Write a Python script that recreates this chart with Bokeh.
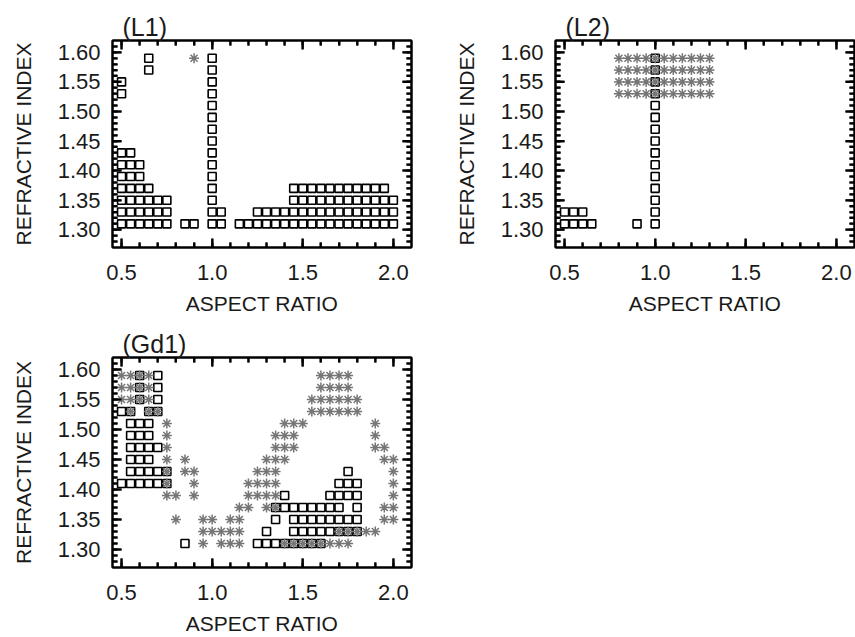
from bokeh.plotting import figure
from bokeh.layouts import column, row
from bokeh.models import Range1d, LinearAxis, FixedTicker, CustomJSTickFormatter
from bokeh.embed import file_html
from bokeh.resources import INLINE

# ---------------- data (aspect ratio values per refractive-index row) ----------------
L1_SQUARES = [
    (1.59, [0.65, 1.00]),
    (1.57, [0.65, 1.00]),
    (1.55, [0.50, 1.00]),
    (1.53, [0.50, 1.00]),
    (1.51, [1.00]),
    (1.49, [1.00]),
    (1.47, [1.00]),
    (1.45, [1.00]),
    (1.43, [0.50, 0.55, 1.00]),
    (1.41, [0.50, 0.55, 0.60, 1.00]),
    (1.39, [0.50, 0.55, 0.60, 1.00]),
    (1.37, [0.50, 0.55, 0.60, 0.65, 1.00, 1.45, 1.50, 1.55, 1.60, 1.65, 1.70, 1.75, 1.80, 1.85, 1.90, 1.95]),
    (1.35, [0.50, 0.55, 0.60, 0.65, 0.70, 0.75, 1.00, 1.45, 1.50, 1.55, 1.60, 1.65, 1.70, 1.75, 1.80, 1.85, 1.90, 1.95, 2.00]),
    (1.33, [0.50, 0.55, 0.60, 0.65, 0.70, 0.75, 1.00, 1.05, 1.25, 1.30, 1.35, 1.40, 1.45, 1.50, 1.55, 1.60, 1.65, 1.70, 1.75, 1.80, 1.85, 1.90, 1.95, 2.00]),
    (1.31, [0.50, 0.55, 0.60, 0.65, 0.70, 0.75, 0.85, 0.90, 1.00, 1.05, 1.15, 1.20, 1.25, 1.30, 1.35, 1.40, 1.45, 1.50, 1.55, 1.60, 1.65, 1.70, 1.75, 1.80, 1.85, 1.90, 1.95, 2.00]),
]
L1_STARS = [
    (1.59, [0.90]),
]

L2_SQUARES = [
    (1.59, [1.00]), (1.57, [1.00]), (1.55, [1.00]), (1.53, [1.00]),
    (1.51, [1.00]), (1.49, [1.00]), (1.47, [1.00]), (1.45, [1.00]),
    (1.43, [1.00]), (1.41, [1.00]), (1.39, [1.00]), (1.37, [1.00]),
    (1.35, [1.00]),
    (1.33, [0.50, 0.55, 0.60, 1.00]),
    (1.31, [0.50, 0.55, 0.60, 0.65, 0.90, 1.00]),
]
L2_STARS = [
    (1.59, [0.80, 0.85, 0.90, 0.95, 1.00, 1.05, 1.10, 1.15, 1.20, 1.25, 1.30]),
    (1.57, [0.80, 0.85, 0.90, 0.95, 1.00, 1.05, 1.10, 1.15, 1.20, 1.25, 1.30]),
    (1.55, [0.80, 0.85, 0.90, 0.95, 1.00, 1.05, 1.10, 1.15, 1.20, 1.25, 1.30]),
    (1.53, [0.80, 0.85, 0.90, 0.95, 1.00, 1.05, 1.10, 1.15, 1.20, 1.25, 1.30]),
]

GD1_SQUARES = [
    (1.59, [0.60, 0.70]),
    (1.57, [0.60, 0.70]),
    (1.55, [0.60, 0.70]),
    (1.53, [0.50, 0.55, 0.65, 0.70]),
    (1.51, [0.55, 0.60, 0.65]),
    (1.49, [0.55, 0.60, 0.65]),
    (1.47, [0.55, 0.60, 0.65, 0.70]),
    (1.45, [0.55, 0.60, 0.65]),
    (1.43, [0.55, 0.60, 0.65, 0.70, 0.75, 1.75]),
    (1.41, [0.50, 0.55, 0.60, 0.65, 0.70, 0.75, 1.70, 1.75, 1.80]),
    (1.39, [1.40, 1.65, 1.70, 1.75, 1.80]),
    (1.37, [1.35, 1.40, 1.45, 1.50, 1.55, 1.60, 1.65, 1.70, 1.80]),
    (1.35, [1.35, 1.45, 1.50, 1.55, 1.60, 1.65, 1.70, 1.75, 1.80]),
    (1.33, [1.30, 1.45, 1.50, 1.55, 1.60, 1.65, 1.70, 1.75, 1.80]),
    (1.31, [0.85, 1.25, 1.30, 1.35, 1.40, 1.45, 1.50, 1.55, 1.60]),
]
GD1_STARS = [
    (1.59, [0.50, 0.55, 0.60, 0.65, 1.60, 1.65, 1.70, 1.75]),
    (1.57, [0.50, 0.55, 0.60, 0.65, 1.60, 1.65, 1.70, 1.75]),
    (1.55, [0.50, 0.55, 0.60, 0.65, 1.55, 1.60, 1.65, 1.70, 1.75, 1.80]),
    (1.53, [0.55, 0.65, 0.70, 1.55, 1.60, 1.65, 1.70, 1.75, 1.80]),
    (1.51, [0.75, 1.40, 1.45, 1.50, 1.90]),
    (1.49, [0.75, 1.35, 1.40, 1.45, 1.90]),
    (1.47, [0.75, 1.35, 1.40, 1.45, 1.90, 1.95]),
    (1.45, [0.75, 0.85, 1.30, 1.35, 1.40, 1.95, 2.00]),
    (1.43, [0.75, 0.85, 0.90, 1.25, 1.30, 1.35, 2.00]),
    (1.41, [0.75, 0.90, 1.20, 1.25, 1.30, 1.35, 2.00]),
    (1.39, [0.75, 0.80, 0.90, 1.20, 1.25, 1.30, 1.35, 2.00]),
    (1.37, [1.15, 1.20, 1.30, 1.35, 1.95, 2.00]),
    (1.35, [0.80, 0.95, 1.00, 1.10, 1.15, 1.95, 2.00]),
    (1.33, [0.95, 1.00, 1.05, 1.10, 1.15, 1.70, 1.75, 1.80, 1.85, 1.90]),
    (1.31, [0.95, 1.05, 1.10, 1.15, 1.40, 1.45, 1.50, 1.55, 1.60, 1.65, 1.70, 1.75]),
]

X_RANGE = (0.45, 2.1)
Y_RANGE = (1.27, 1.62)
X_TICKS = [0.5, 1.0, 1.5, 2.0]
X_LABELS = {0.5: "0.5", 1.0: "1.0", 1.5: "1.5", 2.0: "2.0"}
X_MINOR = [0.5, 0.6, 0.7, 0.8, 0.9, 1.0, 1.1, 1.2, 1.3, 1.4, 1.5, 1.6, 1.7, 1.8, 1.9, 2.0]
Y_TICKS = [1.30, 1.35, 1.40, 1.45, 1.50, 1.55, 1.60]
Y_LABELS = {1.30: "1.30", 1.35: "1.35", 1.40: "1.40", 1.45: "1.45", 1.50: "1.50", 1.55: "1.55", 1.60: "1.60"}
Y_MINOR = [1.28, 1.29, 1.30, 1.31, 1.32, 1.33, 1.34, 1.35, 1.36, 1.37, 1.38, 1.39, 1.40,
           1.41, 1.42, 1.43, 1.44, 1.45, 1.46, 1.47, 1.48, 1.49, 1.50, 1.51, 1.52, 1.53, 1.54,
           1.55, 1.56, 1.57, 1.58, 1.59, 1.60, 1.61]

FONT = "Liberation Sans"
TXT = "#1a1a1a"
STAR_COLOR = "#767676"
FRAME_W = 299   # frame width in px (same for all panels)


def flatten(rows):
    xs, ys = [], []
    for y, vals in rows:
        for x in vals:
            xs.append(x)
            ys.append(y)
    return xs, ys


def style_axis(ax):
    ax.major_tick_in = 9
    ax.major_tick_out = 0
    ax.minor_tick_in = 5
    ax.minor_tick_out = 0
    ax.axis_line_width = 2
    ax.axis_line_color = "black"
    ax.major_tick_line_width = 2
    ax.minor_tick_line_width = 2
    ax.major_tick_line_color = "black"
    ax.minor_tick_line_color = "black"
    ax.major_label_text_font = FONT
    ax.major_label_text_font_size = "22px"
    ax.major_label_text_color = TXT
    ax.axis_label_text_font = FONT
    ax.axis_label_text_font_size = "21px"
    ax.axis_label_text_font_style = "normal"
    ax.axis_label_text_color = TXT


def inner_ticks(p, frame_h):
    # IDL-style inward ticks on all four sides of the frame
    x0, x1 = X_RANGE
    y0, y1 = Y_RANGE
    ux = (x1 - x0) / FRAME_W   # data units per px
    uy = (y1 - y0) / frame_h
    xminor = [v for v in X_MINOR if v not in X_TICKS]
    yminor = [v for v in Y_MINOR if v not in Y_TICKS]
    for xs, L in ((X_TICKS, 9), (xminor, 5)):
        n = len(xs)
        p.segment(x0=xs + xs, y0=[y0] * n + [y1] * n,
                  x1=xs + xs, y1=[y0 + L * uy] * n + [y1 - L * uy] * n,
                  line_color="black", line_width=2)
    for ys, L in ((Y_TICKS, 9), (yminor, 5)):
        n = len(ys)
        p.segment(x0=[x0] * n + [x1] * n, y0=ys + ys,
                  x1=[x0 + L * ux] * n + [x1 - L * ux] * n, y1=ys + ys,
                  line_color="black", line_width=2)


def panel(title, sq_rows, st_rows, width, height, ml, mr, mt, mb):
    p = figure(width=width, height=height,
               x_range=Range1d(*X_RANGE), y_range=Range1d(*Y_RANGE),
               output_backend="svg", toolbar_location=None,
               min_border_left=ml, min_border_right=mr,
               min_border_top=mt, min_border_bottom=mb,
               x_axis_label="ASPECT RATIO", y_axis_label="REFRACTIVE INDEX")
    p.xgrid.visible = False
    p.ygrid.visible = False
    p.outline_line_color = "black"
    p.outline_line_width = 2
    p.background_fill_color = None
    p.border_fill_color = "white"

    p.title.text = title
    p.title.text_font = FONT
    p.title.text_font_size = "25px"
    p.title.text_font_style = "normal"
    p.title.text_color = TXT
    p.title.align = "left"
    p.title.offset = 10
    p.title.standoff = 0

    xa = p.xaxis[0]
    xa.ticker = FixedTicker(ticks=X_TICKS, minor_ticks=X_MINOR)
    xa.major_label_overrides = X_LABELS
    style_axis(xa)
    xa.major_label_standoff = 17
    xa.axis_label_standoff = 9

    ya = p.yaxis[0]
    ya.ticker = FixedTicker(ticks=Y_TICKS, minor_ticks=Y_MINOR)
    ya.major_label_overrides = Y_LABELS
    style_axis(ya)
    ya.major_label_standoff = 12
    ya.axis_label_standoff = 20

    blank = CustomJSTickFormatter(code="return ''")
    ra = LinearAxis(ticker=FixedTicker(ticks=Y_TICKS, minor_ticks=Y_MINOR), formatter=blank)
    style_axis(ra)
    ra.major_label_standoff = 0
    p.add_layout(ra, "right")
    ta = LinearAxis(ticker=FixedTicker(ticks=X_TICKS, minor_ticks=X_MINOR), formatter=blank)
    style_axis(ta)
    ta.major_label_standoff = 0
    p.add_layout(ta, "above")

    inner_ticks(p, height - mt - mb)

    sx, sy = flatten(sq_rows)
    p.scatter(sx, sy, marker="square", size=8, fill_color=None,
              line_color="black", line_width=1.6)
    ax_, ay_ = flatten(st_rows)
    p.scatter(ax_, ay_, marker="asterisk", size=10, line_color=STAR_COLOR, line_width=1.5)
    return p


p1 = panel("(L1)", L1_SQUARES, L1_STARS, 443, 317, 112, 32, 40, 66)
p2 = panel("(L2)", L2_SQUARES, L2_STARS, 412, 317, 112, 1, 40, 66)
p3 = panel("(Gd1)", GD1_SQUARES, GD1_STARS, 443, 320, 112, 32, 40, 70)

layout = column(row(p1, p2), row(p3))
open("out.html", "w").write(file_html(layout, INLINE))
